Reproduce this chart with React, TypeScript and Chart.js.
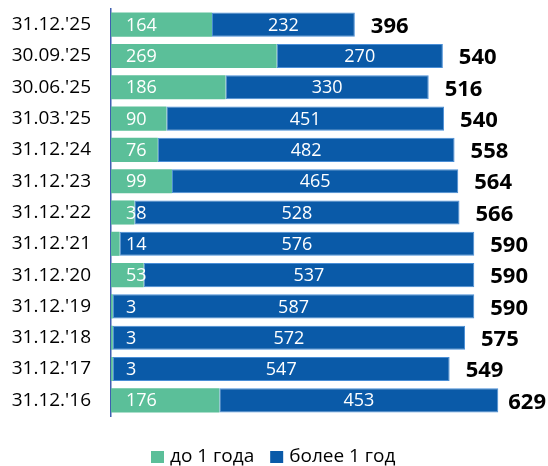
import React, { useEffect, useRef } from "react";
import { Chart, registerables } from "chart.js";

Chart.register(...registerables);

const categories = ["31.12.'25", "30.09.'25", "30.06.'25", "31.03.'25", "31.12.'24", "31.12.'23", "31.12.'22", "31.12.'21", "31.12.'20", "31.12.'19", "31.12.'18", "31.12.'17", "31.12.'16"];
const upTo1Year = [164, 269, 186, 90, 76, 99, 38, 14, 53, 3, 3, 3, 176];
const over1Year = [232, 270, 330, 451, 482, 465, 528, 576, 537, 587, 572, 547, 453];
const totals = [396, 540, 516, 540, 558, 564, 566, 590, 590, 590, 575, 549, 629];

const GREEN = "#5BBF99";
const BLUE = "#0A5AA8";
const FONT = "'Open Sans', sans-serif";

const labelPlugin = {
  id: "barLabels",
  afterDatasetsDraw(chart: any) {
    const ctx = chart.ctx;
    const m0 = chart.getDatasetMeta(0);
    const m1 = chart.getDatasetMeta(1);
    const area = chart.chartArea;
    ctx.save();
    ctx.textBaseline = "middle";
    categories.forEach((_, i) => {
      const g = m0.data[i];
      const b = m1.data[i];
      ctx.fillStyle = "#ffffff";
      ctx.font = `18px ${FONT}`;
      ctx.textAlign = "left";
      ctx.fillText(String(upTo1Year[i]), area.left + 15, g.y + 1);
      ctx.textAlign = "center";
      ctx.fillText(String(over1Year[i]), (b.x + b.base) / 2, b.y + 1);
      ctx.font = `bold 22px ${FONT}`;
      ctx.fillStyle = "#000000";
      ctx.textAlign = "left";
      const t = String(totals[i]);
      const w = ctx.measureText(t).width;
      let x = b.x + 16;
      if (x + w > chart.width - 2) x = chart.width - 2 - w;
      ctx.fillText(t, x, b.y + 2);
    });
    // legend
    const ds = chart.data.datasets;
    ctx.font = `19px ${FONT}`;
    ctx.textAlign = "left";
    let x = 151;
    const cy = 457;
    ds.forEach((d: any) => {
      ctx.fillStyle = d.backgroundColor;
      ctx.fillRect(x, cy - 6, 13, 12);
      ctx.fillStyle = "#000";
      ctx.fillText(d.label, x + 19, cy);
      x += 19 + ctx.measureText(d.label).width + 16;
    });
    ctx.restore();
  },
};

export default function App() {
  const ref = useRef<HTMLCanvasElement>(null);
  useEffect(() => {
    const chart = new Chart(ref.current!, {
      type: "bar",
      data: {
        labels: categories,
        datasets: [
          { label: "до 1 года", data: upTo1Year, backgroundColor: GREEN, borderWidth: 0, barPercentage: 1, categoryPercentage: 0.77 },
          { label: "более 1 год", data: over1Year, backgroundColor: BLUE, borderColor: "#4A8ED6", borderWidth: 1, borderSkipped: false, barPercentage: 1, categoryPercentage: 0.77 },
        ],
      },
      options: {
        indexAxis: "y",
        animation: false,
        responsive: true,
        maintainAspectRatio: false,
        layout: { autoPadding: false, padding: { left: 10, right: 6, top: 9, bottom: 50 } },
        scales: {
          x: { stacked: true, display: false, min: 0, max: 700 },
          y: {
            stacked: true,
            grid: { display: false, drawTicks: false },
            border: { display: true, color: "#3F5FB0", width: 1.5 },
            ticks: { color: "#000", font: { family: FONT, size: 19 }, padding: 20 },
            afterFit: (s: any) => { s.width = 101; s.paddingTop = 0; s.paddingBottom = 0; },
          },
        },
        plugins: {
          legend: { display: false },
          tooltip: { enabled: false },
        },
      },
      plugins: [labelPlugin],
    });
    return () => chart.destroy();
  }, []);
  return (
    <div style={{ position: "absolute", left: 0, top: 0, width: 548, height: 466 }}>
      <canvas ref={ref} />
    </div>
  );
}
